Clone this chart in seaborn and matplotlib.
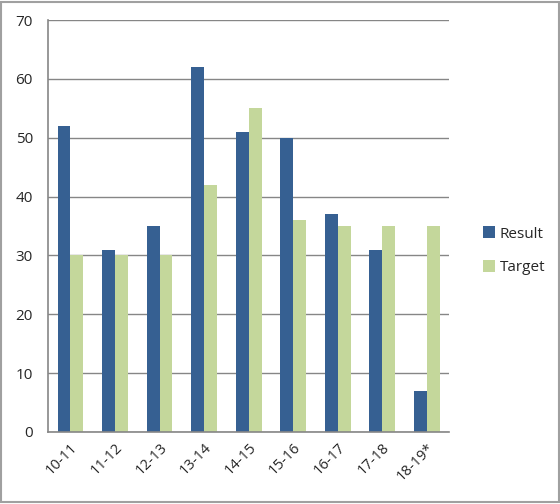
import pandas as pd
import matplotlib.pyplot as plt
import seaborn as sns
from matplotlib.patches import Rectangle

seasons = ['10-11', '11-12', '12-13', '13-14', '14-15', '15-16', '16-17', '17-18', '18-19*']
result = [52, 31, 35, 62, 51, 50, 37, 31, 7]
target = [30, 30, 30, 42, 55, 36, 35, 35, 35]

df = pd.DataFrame({
    'Season': seasons * 2,
    'Value': result + target,
    'Series': ['Result'] * len(seasons) + ['Target'] * len(seasons),
})

sns.set_style('white')
plt.rcParams['font.family'] = ['Open Sans', 'DejaVu Sans']

fig = plt.figure(figsize=(5.6, 5.04), dpi=100)
ax = fig.add_axes([0.086, 0.143, 0.716, 0.817])

sns.barplot(data=df, x='Season', y='Value', hue='Series',
            palette={'Result': '#366092', 'Target': '#C4D79B'},
            width=0.58, saturation=1, linewidth=0, ax=ax)

ax.set_xlim(-0.5, len(seasons) - 0.5)
ax.set_ylim(0, 70)
ax.set_yticks(range(0, 71, 10))
ax.yaxis.grid(True, color='#868686', linewidth=1)
ax.set_axisbelow(True)
ax.set_xlabel('')
ax.set_ylabel('')

for s in ['top', 'right']:
    ax.spines[s].set_visible(False)
for s in ['left', 'bottom']:
    ax.spines[s].set_color('#868686')
    ax.spines[s].set_linewidth(1.2)

ax.set_xticks([i - 0.5 for i in range(len(seasons) + 1)], minor=True)
ax.tick_params(axis='x', which='minor', length=5, color='#868686', width=1.2, direction='out')
ax.tick_params(axis='x', which='major', length=0, pad=6)
ax.tick_params(axis='y', length=5, color='#868686', width=1.2, direction='out', labelsize=11, pad=6)
plt.setp(ax.get_xticklabels(), rotation=45, ha='right', rotation_mode='anchor', fontsize=10.5)

leg = ax.legend(loc='center left', bbox_to_anchor=(1.05, 0.44), frameon=False,
                fontsize=11, handlelength=0.8, handleheight=0.8, labelspacing=1.2,
                handletextpad=0.3)

fig.patches.append(Rectangle((0.002, 0.003), 0.996, 0.994, transform=fig.transFigure,
                             fill=False, edgecolor='#A0A0A0', linewidth=1.5))

fig.savefig('out.png', dpi=100)
